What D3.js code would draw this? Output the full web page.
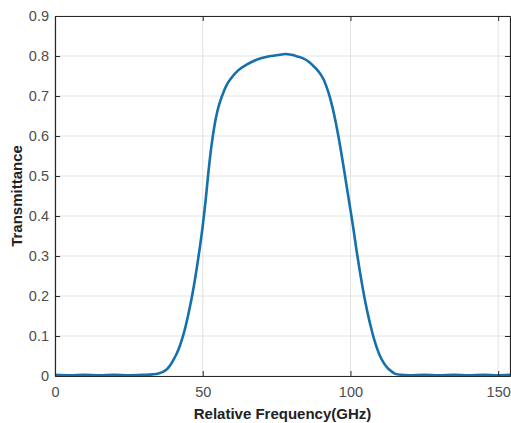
<!DOCTYPE html>
<html>
<head>
<meta charset="utf-8">
<script src="https://cdn.jsdelivr.net/npm/d3@7"></script>
<style>
  html, body { margin: 0; padding: 0; background: #fff; }
  svg { display: block; }
</style>
</head>
<body>
<svg id="chart" width="511" height="423"></svg>
<script>
// Measured filter transmission spectrum
const freqGHz = [0, 5, 10, 15, 20, 25, 30, 33, 35, 37, 38, 39, 40, 41, 42, 43, 44, 45, 46, 47, 48, 49,
  50, 51, 52, 53, 54, 55, 56, 57, 58, 60, 62, 65, 68, 70, 73, 76, 78, 80, 82, 84, 86, 88, 90, 91, 92,
  93, 94, 95, 96, 97, 98, 99, 100, 101, 102, 103, 104, 105, 106, 107, 108, 109, 110, 111, 112, 113,
  114, 115, 117, 120, 125, 130, 135, 140, 145, 150, 154];
const transmittance = [0.003, 0.002, 0.003, 0.002, 0.003, 0.002, 0.003, 0.004, 0.006, 0.012, 0.018,
  0.027, 0.039, 0.053, 0.07, 0.092, 0.118, 0.15, 0.185, 0.225, 0.27, 0.32,
  0.375, 0.44, 0.515, 0.578, 0.627, 0.663, 0.689, 0.709, 0.726, 0.748, 0.764, 0.779, 0.79, 0.795, 0.8,
  0.803, 0.805, 0.803, 0.799, 0.794, 0.785, 0.771, 0.753, 0.74, 0.721,
  0.698, 0.669, 0.635, 0.596, 0.553, 0.508, 0.461, 0.415, 0.368, 0.317, 0.27, 0.226, 0.186, 0.151, 0.12,
  0.092, 0.069, 0.05, 0.036, 0.025, 0.017, 0.011, 0.006, 0.003, 0.002, 0.003, 0.002, 0.003, 0.002,
  0.003, 0.002, 0.003];
const xTicks = [0, 50, 100, 150];
const yTicks = [0, 0.1, 0.2, 0.3, 0.4, 0.5, 0.6, 0.7, 0.8, 0.9];
const xDomain = [0, 154];
const yDomain = [0, 0.9];

const svg = d3.select("#chart");
const margin = { left: 55, right: 1, top: 16, bottom: 47 };
const W = 511, H = 423;
const x = d3.scaleLinear().domain(xDomain).range([margin.left, W - margin.right]);
const y = d3.scaleLinear().domain(yDomain).range([H - margin.bottom, margin.top]);

const font = "'Liberation Sans', Arial, Helvetica, sans-serif";
const axisColor = "#262626";
const tickText = "#4d4d4d";

// grid
const grid = svg.append("g");
grid.selectAll("line.gx").data(xTicks).join("line")
  .attr("x1", d => x(d)).attr("x2", d => x(d))
  .attr("y1", y.range()[0]).attr("y2", y.range()[1])
  .attr("stroke", "#e3e3e3").attr("stroke-width", 1);
grid.selectAll("line.gy").data(yTicks).join("line")
  .attr("y1", d => y(d)).attr("y2", d => y(d))
  .attr("x1", x.range()[0]).attr("x2", x.range()[1])
  .attr("stroke", "#e3e3e3").attr("stroke-width", 1);

// spectrum trace
const line = d3.line()
  .x((d, i) => x(freqGHz[i]))
  .y(d => y(d))
  .curve(d3.curveMonotoneX);
svg.append("path")
  .datum(transmittance)
  .attr("d", line)
  .attr("fill", "none")
  .attr("stroke", "#1570ad")
  .attr("stroke-width", 2.6)
  .attr("stroke-linejoin", "round");

// axes with inward ticks (box style)
const axisB = d3.axisBottom(x).tickValues(xTicks).tickSizeInner(-5).tickSizeOuter(0).tickPadding(11).tickFormat(d3.format("d"));
const axisT = d3.axisTop(x).tickValues(xTicks).tickSizeInner(-5).tickSizeOuter(0).tickFormat("");
const axisL = d3.axisLeft(y).tickValues(yTicks).tickSizeInner(-5).tickSizeOuter(0).tickPadding(6).tickFormat(d => d === 0 ? "0" : d3.format(".1f")(d));
const axisR = d3.axisRight(y).tickValues(yTicks).tickSizeInner(-5).tickSizeOuter(0).tickFormat("");

function style(g) {
  g.select(".domain").attr("stroke", axisColor).attr("stroke-width", 1.2);
  g.selectAll(".tick line").attr("stroke", axisColor).attr("stroke-width", 1);
  g.selectAll(".tick text").attr("fill", tickText).attr("font-family", font).attr("font-size", 14.5);
}
svg.append("g").attr("transform", `translate(0,${y(0)})`).call(axisB).call(style);
svg.append("g").attr("transform", `translate(0,${y(0.9)})`).call(axisT).call(style);
svg.append("g").attr("transform", `translate(${x(0)},0)`).call(axisL).call(style);
svg.append("g").attr("transform", `translate(${x(154)},0)`).call(axisR).call(style);

// axis titles
svg.append("text")
  .attr("x", (x.range()[0] + x.range()[1]) / 2).attr("y", 419)
  .attr("text-anchor", "middle")
  .attr("font-family", font).attr("font-weight", "bold").attr("font-size", 15)
  .attr("fill", "#222")
  .text("Relative Frequency(GHz)");
svg.append("text")
  .attr("transform", `translate(22,${(y.range()[0] + y.range()[1]) / 2}) rotate(-90)`)
  .attr("text-anchor", "middle")
  .attr("font-family", font).attr("font-weight", "bold").attr("font-size", 15)
  .attr("fill", "#222")
  .text("Transmittance");
</script>
</body>
</html>
